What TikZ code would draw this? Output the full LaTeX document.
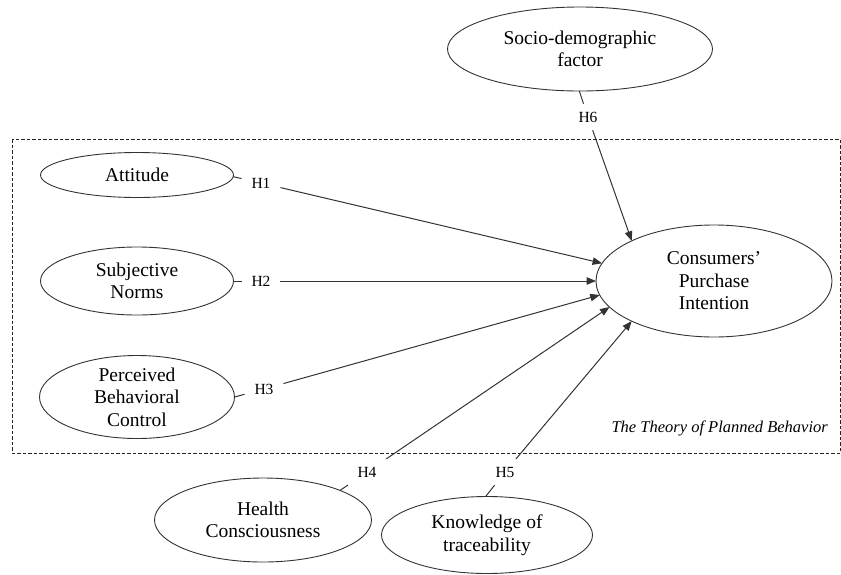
\documentclass[tikz,border=0pt]{standalone}
\usepackage{fontspec}
\setmainfont{Liberation Serif}
\usetikzlibrary{arrows.meta,shapes.geometric}
\begin{document}
\begin{tikzpicture}[x=1pt,y=-1pt,
  construct/.style={draw=black!80, line width=0.9pt, ellipse, inner sep=0pt, outer sep=0pt},
  ctext/.style={align=center, font=\fontsize{19.5}{22.5}\selectfont, inner sep=0pt},
  hyp/.style={inner xsep=10pt, inner ysep=8pt, outer sep=0pt, font=\fontsize{15.5}{18}\selectfont},
  link/.style={draw=black!80, line width=1pt},
  arrowlink/.style={link, -{Triangle[length=9.5pt,width=7.5pt]}},
  frame/.style={draw=black!85, line width=0.9pt, dash pattern=on 3.5pt off 2pt}
]
\useasboundingbox (0,0) rectangle (841,574);

% Theory of Planned Behavior frame
\draw[frame] (12,139) rectangle (840,453);
\node[anchor=base east, inner sep=0pt, font=\itshape\fontsize{16.5}{19}\selectfont] (tpb) at (828,432) {The Theory of Planned Behavior};

% constructs
\node[construct, minimum width=265pt, minimum height=84pt, label={[ctext]center:{Socio-demographic\\factor}}] (soc) at (580,49) {};
\node[construct, minimum width=193pt, minimum height=45pt, label={[ctext]center:Attitude}] (att) at (137,175) {};
\node[construct, minimum width=193pt, minimum height=68pt, label={[ctext]center:{Subjective\\Norms}}] (sn) at (137,281) {};
\node[construct, minimum width=195pt, minimum height=83pt, label={[ctext]center:{Perceived\\Behavioral\\Control}}] (pbc) at (137,397) {};
\node[construct, minimum width=236pt, minimum height=112pt, label={[ctext]center:{Consumers'\\Purchase\\Intention}}] (cpi) at (714,281) {};
\node[construct, minimum width=217pt, minimum height=84pt, label={[ctext]center:{Health\\Consciousness}}] (hc) at (263,520) {};
\node[construct, minimum width=211pt, minimum height=77pt, label={[ctext]center:{Knowledge of\\traceability}}] (kt) at (487,535) {};

% hypothesis labels
\node[hyp] (h1) at (261,183) {H1};
\node[hyp] (h2) at (261,281) {H2};
\node[hyp] (h3) at (264,389) {H3};
\node[hyp] (h4) at (367,472) {H4};
\node[hyp] (h5) at (505,472) {H5};
\node[hyp] (h6) at (588,117) {H6};

% paths
\draw[link] (att.359) -- (h1);
\draw[arrowlink] (h1) -- (cpi.171.5);
\draw[link] (sn.east) -- (h2);
\draw[arrowlink] (h2) -- (cpi.180);
\draw[link] (pbc.east) -- (h3);
\draw[arrowlink] (h3) -- (cpi.187.8);
\draw[link] (hc.21) -- (h4);
\draw[arrowlink] (h4) -- (cpi.194.8);
\draw[link] (kt.92) -- (h5);
\draw[arrowlink] (h5) -- (cpi.206.8);
\draw[link] (soc.269) -- (h6);
\draw[arrowlink] (h6) -- (cpi.154.5);
\end{tikzpicture}
\end{document}
